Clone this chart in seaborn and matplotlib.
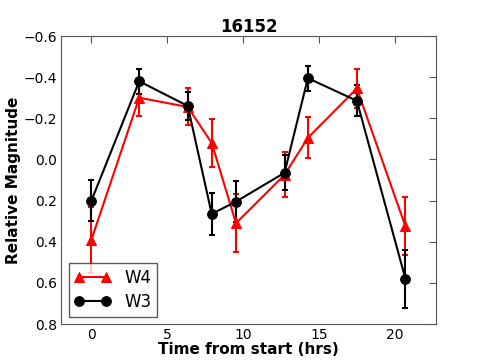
import numpy as np
import pandas as pd
import matplotlib
matplotlib.use("Agg")
import matplotlib.pyplot as plt
import seaborn as sns

time_hrs = [0.0, 3.15, 6.35, 7.93, 9.53, 12.73, 14.27, 17.5, 20.7]
w4_mag = [0.39, -0.30, -0.255, -0.08, 0.31, 0.075, -0.105, -0.345, 0.325]
w4_err = [0.16, 0.09, 0.09, 0.117, 0.14, 0.11, 0.10, 0.095, 0.14]
w3_mag = [0.20, -0.38, -0.26, 0.265, 0.205, 0.065, -0.395, -0.285, 0.58]
w3_err = [0.10, 0.06, 0.07, 0.10, 0.10, 0.085, 0.06, 0.075, 0.14]

sns.set_style("white")
plt.rcParams['font.family'] = ['DejaVu Sans']
plt.rcParams['text.color'] = 'black'
plt.rcParams['axes.labelcolor'] = 'black'
plt.rcParams['xtick.color'] = 'black'
plt.rcParams['ytick.color'] = 'black'

df = pd.DataFrame({
    "t": time_hrs * 2,
    "mag": w4_mag + w3_mag,
    "band": ["W4"] * len(time_hrs) + ["W3"] * len(time_hrs),
})

fig, ax = plt.subplots(figsize=(4.85, 3.6), dpi=100)
fig.subplots_adjust(left=0.126, right=0.9, top=0.9, bottom=0.1)

ax.errorbar(time_hrs, w4_mag, yerr=w4_err, fmt='none', ecolor='red',
            elinewidth=1.5, capsize=2.5, capthick=1.5, zorder=2)
ax.errorbar(time_hrs, w3_mag, yerr=w3_err, fmt='none', ecolor='black',
            elinewidth=1.5, capsize=2.5, capthick=1.5, zorder=2)

n_before = len(ax.get_lines())
sns.lineplot(data=df, x="t", y="mag", hue="band", style="band",
             palette={"W4": "red", "W3": "black"},
             markers={"W4": "^", "W3": "o"}, dashes=False,
             markersize=7, linewidth=1.5,
             sort=False, ax=ax, zorder=3)
for ln in ax.get_lines()[n_before:]:
    ln.set_markeredgecolor(ln.get_color())

ax.set_xlim(-2, 22.75)
ax.set_ylim(0.8, -0.6)
ax.set_yticks(np.arange(-0.6, 0.81, 0.2))
ax.set_xticks([0, 5, 10, 15, 20])
ax.tick_params(direction='in', top=True, right=True, length=5, width=0.8,
               labelsize=10, color='#555555', labelcolor='black', pad=3)
for s in ax.spines.values():
    s.set_color('#555555')
    s.set_linewidth(0.8)

ax.set_title("16152", fontsize=12, fontweight='bold', pad=3)
ax.set_xlabel("Time from start (hrs)", fontsize=11, fontweight='bold', labelpad=0)
ax.set_ylabel("Relative Magnitude", fontsize=11, fontweight='bold', labelpad=2)

handles, labels = ax.get_legend_handles_labels()
leg = ax.legend(handles, labels, loc='lower left', numpoints=2, fontsize=12,
                frameon=True, fancybox=False, edgecolor='#333333',
                borderaxespad=0.45, borderpad=0.35, labelspacing=0.35,
                handlelength=2.2)
for h in leg.legend_handles:
    h.set_markeredgecolor(h.get_color())

fig.savefig("out.png", dpi=100, facecolor='white')
